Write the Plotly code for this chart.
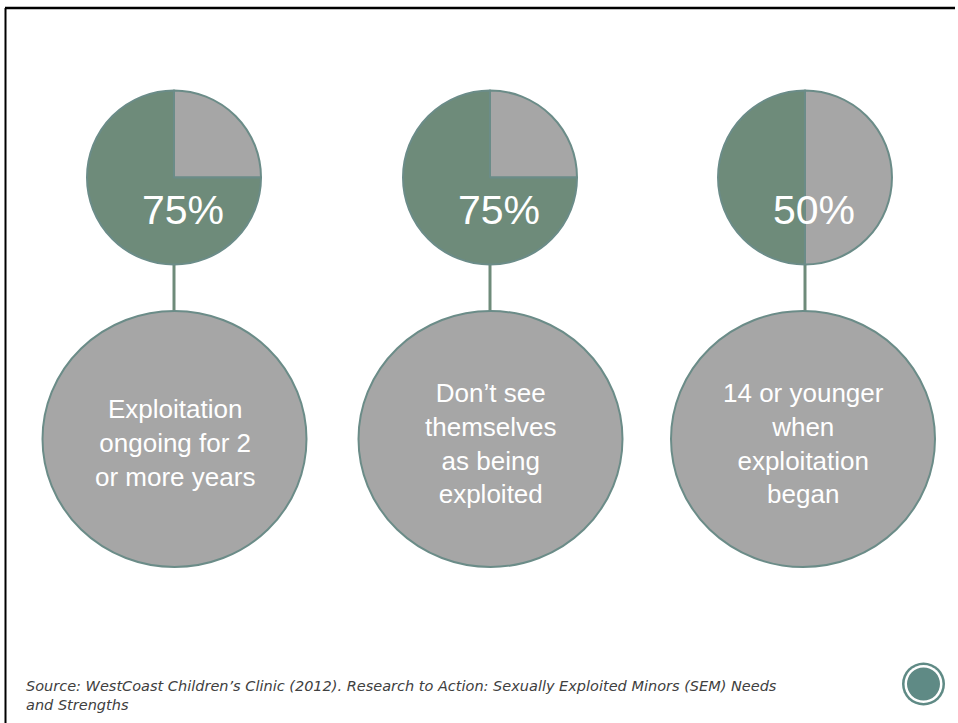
import plotly.graph_objects as go

# ---- data ----
percent_values = [75, 75, 50]
percent_labels = ["75%", "75%", "50%"]
descriptions = [
    "Exploitation<br>ongoing for 2<br>or more years",
    "Don’t see<br>themselves<br>as being<br>exploited",
    "14 or younger<br>when<br>exploitation<br>began",
]
source_text = ("Source: WestCoast Children’s Clinic (2012). Research to Action: Sexually Exploited Minors (SEM) Needs"
               "<br>and Strengths")

# ---- styling / layout constants ----
W, H = 958, 723
GREEN = "#6e8b7a"
GRAY = "#a6a6a6"
EDGE = "#6b8c88"
ICON = "#5f8a85"

pie_cx = [174, 490, 805]
pie_cy = 177.5
pie_r = 87
big_cx = [174.5, 490.5, 803]
big_top, big_bot = 311, 567
big_hw = 132

fig = go.Figure()

shapes = []
annotations = []

for i, v in enumerate(percent_values):
    cx = pie_cx[i]
    x0 = (cx - pie_r) / W
    x1 = (cx + pie_r) / W
    y0 = (H - pie_cy - pie_r) / H
    y1 = (H - pie_cy + pie_r) / H
    fig.add_trace(go.Pie(
        values=[100 - v, v],
        labels=["other", "share"],
        marker=dict(colors=[GRAY, GREEN], line=dict(color=EDGE, width=2)),
        sort=False,
        direction="clockwise",
        rotation=0,
        textinfo="none",
        hoverinfo="skip",
        showlegend=False,
        domain=dict(x=[x0, x1], y=[y0, y1]),
    ))
    # connector
    shapes.append(dict(type="line", xref="x", yref="y",
                       x0=cx, x1=cx, y0=pie_cy + pie_r - 1, y1=big_top + 1,
                       line=dict(color=GREEN, width=3), layer="below"))
    # big description circle
    bx = big_cx[i]
    shapes.append(dict(type="circle", xref="x", yref="y",
                       x0=bx - big_hw, x1=bx + big_hw, y0=big_top, y1=big_bot,
                       fillcolor=GRAY, line=dict(color=EDGE, width=2), layer="above"))
    annotations.append(dict(x=cx + 9, y=210, xref="x", yref="y",
                            text=percent_labels[i], showarrow=False,
                            xanchor="center", yanchor="middle",
                            font=dict(family="Liberation Sans, Arial", size=41, color="white")))
    annotations.append(dict(x=bx, y=443, xref="x", yref="y",
                            text=descriptions[i], showarrow=False,
                            xanchor="center", yanchor="middle",
                            font=dict(family="Liberation Sans, Arial", size=26, color="white")))

# slide border (top and left)
shapes.append(dict(type="line", xref="x", yref="y", x0=5, x1=955, y0=8, y1=8,
                   line=dict(color="black", width=2.5)))
shapes.append(dict(type="line", xref="x", yref="y", x0=5.5, x1=5.5, y0=8, y1=H,
                   line=dict(color="black", width=2)))

# bottom-right icon
icx, icy = 923.5, 684
shapes.append(dict(type="circle", xref="x", yref="y",
                   x0=icx - 21.5, x1=icx + 21.5, y0=icy - 21.5, y1=icy + 21.5,
                   fillcolor=ICON, line=dict(width=0)))
shapes.append(dict(type="circle", xref="x", yref="y",
                   x0=icx - 19, x1=icx + 19, y0=icy - 19, y1=icy + 19,
                   fillcolor="white", line=dict(width=0)))
shapes.append(dict(type="circle", xref="x", yref="y",
                   x0=icx - 16.5, x1=icx + 16.5, y0=icy - 16.5, y1=icy + 16.5,
                   fillcolor=ICON, line=dict(width=0)))

annotations.append(dict(x=24, y=676, xref="x", yref="y", text="<i>" + source_text + "</i>",
                        showarrow=False, xanchor="left", yanchor="top", align="left",
                        font=dict(family="DejaVu Sans, sans-serif", size=14.5, color="#404040")))

fig.update_layout(
    width=W, height=H,
    margin=dict(l=0, r=0, t=0, b=0),
    paper_bgcolor="white", plot_bgcolor="white",
    xaxis=dict(range=[0, W], visible=False, fixedrange=True),
    yaxis=dict(range=[H, 0], visible=False, fixedrange=True),
    shapes=shapes,
    annotations=annotations,
    showlegend=False,
)

fig.write_html("out.html")
